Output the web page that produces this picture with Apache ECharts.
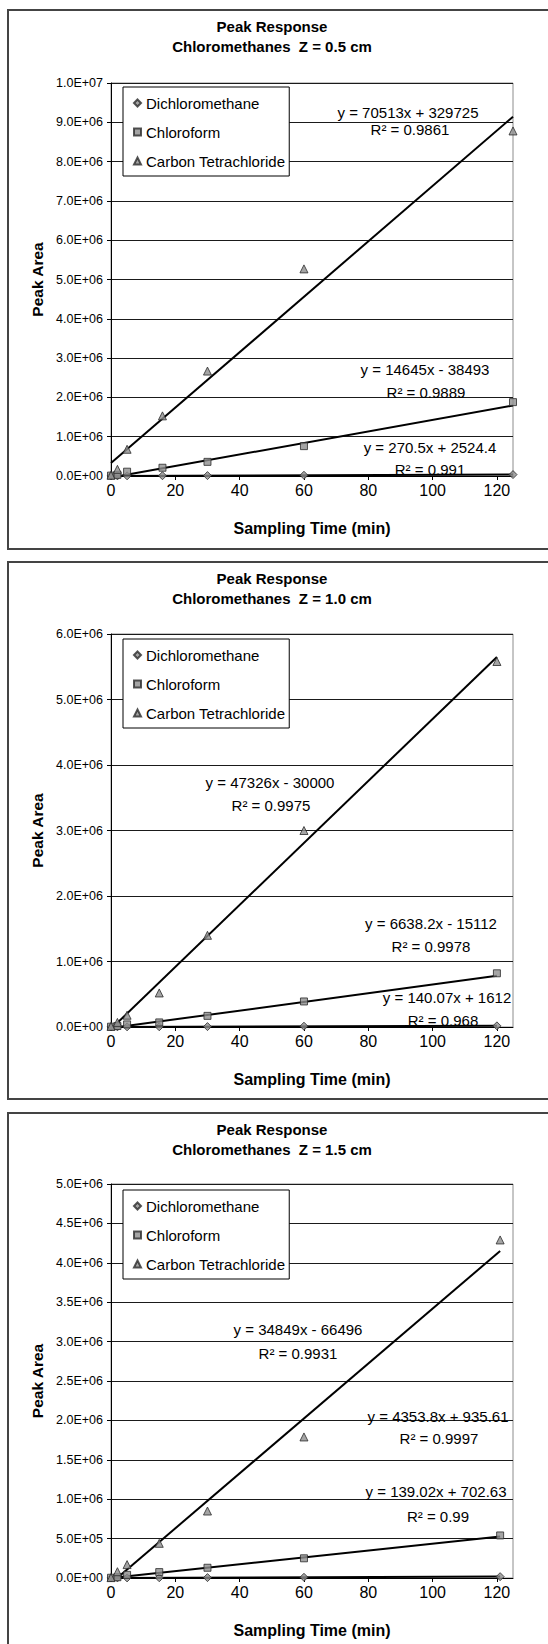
<!DOCTYPE html>
<html>
<head>
<meta charset="utf-8">
<title>Peak Response - Chloromethanes</title>
<script src="https://cdn.jsdelivr.net/npm/echarts@6.0.0/dist/echarts.min.js"></script>
<style>
  html, body { margin: 0; padding: 0; background: #fff; overflow: hidden; }
  body { position: relative; width: 548px; height: 1644px; }
  .panel { position: absolute; left: 8px; width: 540px; height: 538px; }
  .frame { position: absolute; left: 7px; width: 600px; border: 2px solid #444; box-sizing: border-box; pointer-events: none; }
</style>
</head>
<body>
<div id="z05" class="panel" style="top:10px"></div>
<div id="z10" class="panel" style="top:562px"></div>
<div id="z15" class="panel" style="top:1113px"></div>
<div class="frame" style="top:9px;height:541px"></div>
<div class="frame" style="top:561px;height:539px"></div>
<div class="frame" style="top:1112px;height:560px"></div>
<script>
// series names and x-axis tick labels (min)
const seriesNames = ['Dichloromethane', 'Chloroform', 'Carbon Tetrachloride']
const xTicks = [0, 20, 40, 60, 80, 100, 120]

// Z = 0.5 cm
const times05 = [0, 2, 5, 16, 30, 60, 125]
const dcm05 = [1500, 3000, 4500, 7000, 10000, 19000, 36000]
const chcl05 = [10000, 30000, 110000, 210000, 360000, 760000, 1880000]
const ccl05 = [20000, 170000, 680000, 1530000, 2670000, 5270000, 8780000]
const fits05 = [[270.5, 2524.4], [14645, -38493], [70513, 329725]]
const r2_05 = [0.991, 0.9889, 0.9861]

// Z = 1.0 cm
const times10 = [0, 2, 5, 15, 30, 60, 120]
const dcm10 = [1000, 2000, 2500, 3500, 6000, 12000, 17500]
const chcl10 = [5000, 15000, 40000, 70000, 170000, 390000, 820000]
const ccl10 = [10000, 70000, 180000, 520000, 1400000, 3000000, 5580000]
const fits10 = [[140.07, 1612], [6638.2, -15112], [47326, -30000]]
const r2_10 = [0.968, 0.9978, 0.9975]

// Z = 1.5 cm
const times15 = [0, 2, 5, 15, 30, 60, 121]
const dcm15 = [500, 1000, 1500, 3000, 5000, 9000, 17000]
const chcl15 = [3000, 10000, 40000, 75000, 130000, 250000, 540000]
const ccl15 = [5000, 80000, 170000, 440000, 850000, 1790000, 4290000]
const fits15 = [[139.02, 702.63], [4353.8, 935.61], [34849, -66496]]
const r2_15 = [0.99, 0.9997, 0.9931]

const FONT = '"Liberation Sans", Arial, sans-serif'
const SYMBOLS = [['diamond', 8], ['rect', 7], ['triangle', 8]]

/**
 * 1.0E+07 style label
 * @param v
 */
function sciLabel(v) {
  const parts = v.toExponential(1).split('e')
  const e = +parts[1]
  const n = Math.abs(e)
  return parts[0] + 'E' + (e < 0 ? '-' : '+') + (n < 10 ? '0' : '') + n
}

function eqText(fit) {
  return 'y = ' + fit[0] + 'x ' + (fit[1] < 0 ? '- ' : '+ ') + Math.abs(fit[1])
}

function textEl(x, y, s) {
  return {
    type: 'text',
    x: x,
    y: y,
    z: 10,
    style: {
      text: s,
      font: '15px ' + FONT,
      fill: '#000',
      textAlign: 'center',
      textVerticalAlign: 'middle',
      align: 'center',
      verticalAlign: 'middle'
    }
  }
}

/**
 *
 * @param cfg
 * @returns {Object}
 */
function buildOption(cfg) {
  const tMax = cfg.times[cfg.times.length - 1]
  const scatters = cfg.values.map((vals, i) => ({
    type: 'scatter',
    name: seriesNames[i],
    symbol: SYMBOLS[i][0],
    symbolSize: SYMBOLS[i][1],
    data: cfg.times.map((t, j) => [t, vals[j]]),
    itemStyle: { color: '#8f8f8f', borderColor: '#2a2a2a', borderWidth: 1 },
    emphasis: { disabled: true },
    z: 3
  }))
  const trends = cfg.fits.map(fit => ({
    type: 'line',
    data: [[0, fit[1]], [tMax, fit[0] * tMax + fit[1]]],
    symbol: 'none',
    lineStyle: { color: '#000', width: 2 },
    silent: true,
    clip: true,
    z: 2
  }))
  const labels = []
  cfg.labelPos.forEach((p, i) => {
    labels.push(textEl(p[0], p[1], eqText(cfg.fits[i])))
    labels.push(textEl(p[2], p[3], 'R\u00b2 = ' + cfg.r2[i]))
  })
  return {
    animation: false,
    backgroundColor: 'transparent',
    title: {
      text: 'Peak Response\nChloromethanes  Z = ' + cfg.z + ' cm',
      left: 264,
      top: 6,
      padding: 0,
      textAlign: 'center',
      textStyle: { fontFamily: FONT, fontSize: 15, fontWeight: 'bold', lineHeight: 20, color: '#000' }
    },
    legend: {
      orient: 'vertical',
      left: 115,
      top: 77,
      padding: [8, 4, 7, 10],
      itemGap: 13,
      itemWidth: 7,
      itemHeight: 7,
      backgroundColor: '#fff',
      borderColor: '#000',
      borderWidth: 1,
      borderRadius: 0,
      selectedMode: false,
      data: seriesNames.map((n, i) => ({ name: n, icon: SYMBOLS[i][0] })),
      textStyle: { fontFamily: FONT, fontSize: 15, lineHeight: 16, color: '#000' }
    },
    grid: {
      left: 103,
      top: cfg.gridTop,
      width: 402,
      height: cfg.gridHeight,
      show: true,
      borderColor: '#8c8c8c',
      borderWidth: 1,
      backgroundColor: 'transparent',
      containLabel: false,
      outerBoundsMode: 'none'
    },
    xAxis: {
      type: 'value',
      min: 0,
      max: 125,
      interval: 20,
      name: 'Sampling Time (min)',
      nameLocation: 'middle',
      nameGap: 44,
      nameTextStyle: { fontFamily: FONT, fontSize: 16, fontWeight: 'bold', color: '#000' },
      axisLine: { show: true, lineStyle: { color: '#000', width: 1 } },
      axisTick: { show: true, inside: false, length: 4, customValues: xTicks, lineStyle: { color: '#000' } },
      axisLabel: { fontFamily: FONT, fontSize: 16, color: '#000', margin: 6, customValues: xTicks },
      splitLine: { show: false }
    },
    yAxis: {
      type: 'value',
      min: 0,
      max: cfg.yMax,
      interval: cfg.yStep,
      name: 'Peak Area',
      nameLocation: 'middle',
      nameGap: 66,
      nameTextStyle: { fontFamily: FONT, fontSize: 15.5, fontWeight: 'bold', color: '#000' },
      axisLine: { show: true, lineStyle: { color: '#000', width: 1 } },
      axisTick: { show: true, inside: false, length: 4, lineStyle: { color: '#000' } },
      axisLabel: { fontFamily: FONT, fontSize: 12.5, color: '#000', margin: 8, formatter: sciLabel },
      splitLine: { show: true, lineStyle: { color: '#1a1a1a', width: 1 } }
    },
    graphic: labels,
    series: scatters.concat(trends)
  }
}

const panels = [
  {
    id: 'z05', z: '0.5', times: times05, values: [dcm05, chcl05, ccl05], fits: fits05, r2: r2_05,
    yMax: 10000000, yStep: 1000000, gridTop: 73, gridHeight: 393,
    labelPos: [[422, 437, 422, 459], [417, 359, 418, 382], [400, 102, 402, 119]]
  },
  {
    id: 'z10', z: '1.0', times: times10, values: [dcm10, chcl10, ccl10], fits: fits10, r2: r2_10,
    yMax: 6000000, yStep: 1000000, gridTop: 72, gridHeight: 393,
    labelPos: [[439, 435, 435, 458], [423, 361, 423, 384], [262, 220, 263, 243]]
  },
  {
    id: 'z15', z: '1.5', times: times15, values: [dcm15, chcl15, ccl15], fits: fits15, r2: r2_15,
    yMax: 5000000, yStep: 500000, gridTop: 71, gridHeight: 394,
    labelPos: [[428, 378, 430, 403], [430, 303, 431, 325], [290, 216, 290, 240]]
  }
]

panels.forEach(cfg => {
  const chart = echarts.init(document.getElementById(cfg.id), null, { renderer: 'svg', width: 540, height: 538 })
  chart.setOption(buildOption(cfg))
})
</script>
</body>
</html>
